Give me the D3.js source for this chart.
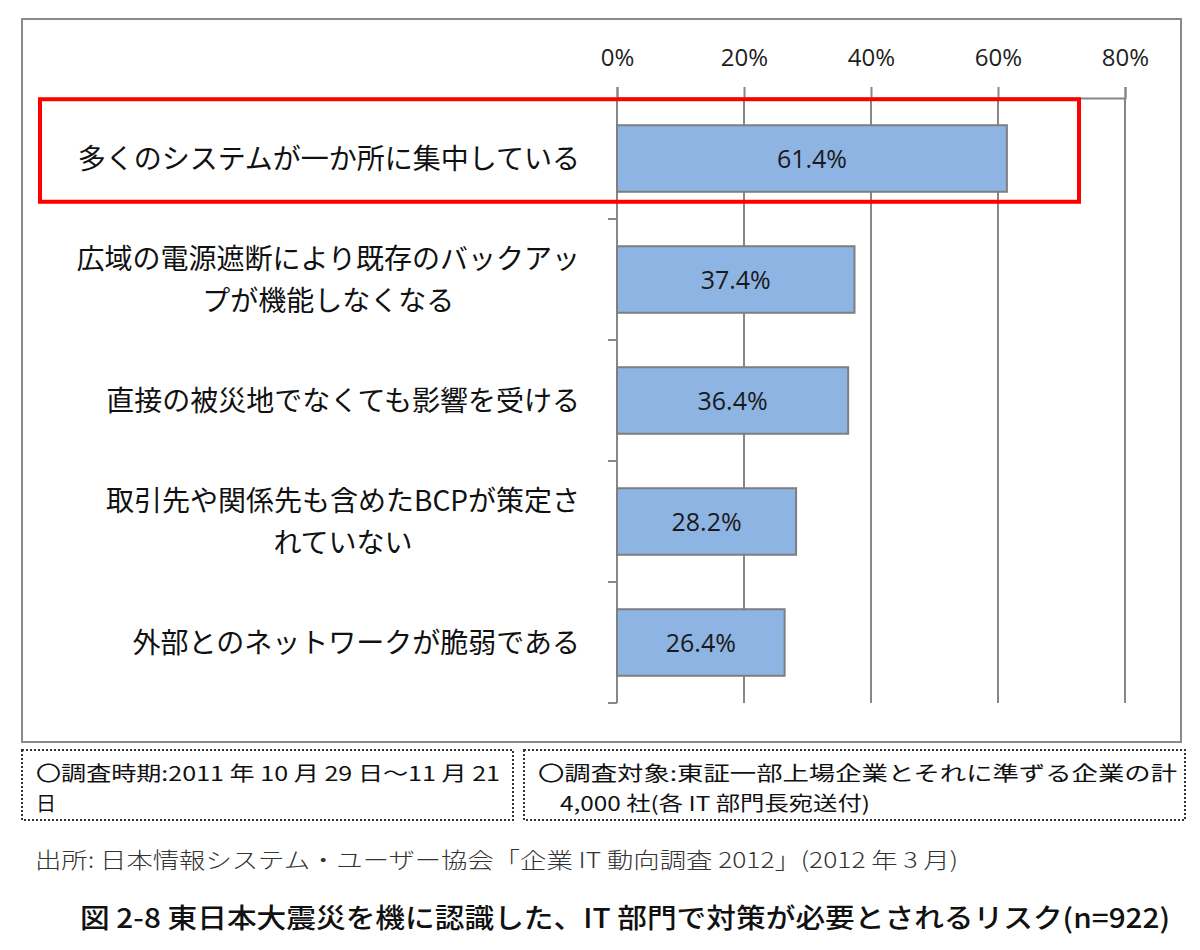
<!DOCTYPE html>
<html>
<head>
<meta charset="utf-8">
<script src="https://cdn.jsdelivr.net/npm/d3@7"></script>
<style>
  body { margin: 0; background: #fff; }
  svg { display: block; }
</style>
</head>
<body>
<div id="chart"></div>
<script>
// data
var categories = [
  "多くのシステムが一か所に集中している",
  "広域の電源遮断により既存のバックアップが機能しなくなる",
  "直接の被災地でなくても影響を受ける",
  "取引先や関係先も含めたBCPが策定されていない",
  "外部とのネットワークが脆弱である"
];
var labelLines = [
  ["多くのシステムが一か所に集中している"],
  ["広域の電源遮断により既存のバックアッ", "プが機能しなくなる"],
  ["直接の被災地でなくても影響を受ける"],
  ["取引先や関係先も含めたBCPが策定さ", "れていない"],
  ["外部とのネットワークが脆弱である"]
];
var values = [0.614, 0.374, 0.364, 0.282, 0.264];
var xTicks = [0, 0.2, 0.4, 0.6, 0.8];
var highlighted = categories[0];

var note1 = ["〇調査時期:2011 年 10 月 29 日～11 月 21", "日"];
var note2 = ["〇調査対象:東証一部上場企業とそれに準ずる企業の計", "4,000 社(各 IT 部門長宛送付)"];
var sourceText = "出所: 日本情報システム・ユーザー協会「企業 IT 動向調査 2012」(2012 年 3 月)";
var titleText = "図 2-8  東日本大震災を機に認識した、IT 部門で対策が必要とされるリスク(n=922)";

var W = 1200, H = 950;
var jp = "'Noto Sans CJK JP', 'Noto Sans', sans-serif";
var num = "'Open Sans', 'Noto Sans', sans-serif";
var gridColor = "#878787";

var svg = d3.select("#chart").append("svg")
    .attr("width", W)
    .attr("height", H);

// outer chart frame
svg.append("rect")
    .attr("x", 22).attr("y", 19)
    .attr("width", 1159).attr("height", 723)
    .attr("fill", "#fff")
    .attr("stroke", "#8a8a8a")
    .attr("stroke-width", 2);

var x = d3.scaleLinear()
    .domain([0, 0.8])
    .range([617, 1125]);

var y = d3.scaleBand()
    .domain(categories)
    .range([98, 703])
    .paddingInner(0.45)
    .paddingOuter(0.225);

// vertical gridlines
svg.append("g")
  .selectAll("line")
  .data(xTicks)
  .join("line")
    .attr("x1", d => x(d)).attr("x2", d => x(d))
    .attr("y1", 98).attr("y2", 703)
    .attr("stroke", gridColor)
    .attr("stroke-width", 2);

// value axis on top
var xAxis = svg.append("g")
    .attr("transform", "translate(0,98)")
    .call(d3.axisTop(x)
        .tickValues(xTicks)
        .tickFormat(d3.format(".0%"))
        .tickSize(11)
        .tickPadding(21));
xAxis.select(".domain").attr("stroke", gridColor).attr("stroke-width", 2);
xAxis.selectAll(".tick line").attr("stroke", gridColor).attr("stroke-width", 2);
xAxis.selectAll(".tick text")
    .attr("font-family", num)
    .attr("font-size", 24)
    .attr("fill", "#1e1e1e");

// category axis with ticks on the band boundaries
var bounds = categories.map(c => y(c) - (y.step() - y.bandwidth()) / 2);
bounds.push(y.range()[1]);
var yAxis = svg.append("g");
yAxis.append("line")
    .attr("x1", x(0)).attr("x2", x(0))
    .attr("y1", y.range()[0]).attr("y2", y.range()[1])
    .attr("stroke", gridColor)
    .attr("stroke-width", 2);
yAxis.selectAll("line.tk")
  .data(bounds.slice(1))
  .join("line")
    .attr("class", "tk")
    .attr("x1", x(0) - 9).attr("x2", x(0))
    .attr("y1", d => d).attr("y2", d => d)
    .attr("stroke", gridColor)
    .attr("stroke-width", 2);

// bars
svg.append("g")
  .selectAll("rect")
  .data(values)
  .join("rect")
    .attr("x", x(0))
    .attr("y", (d, i) => y(categories[i]))
    .attr("width", d => x(d) - x(0))
    .attr("height", y.bandwidth())
    .attr("fill", "#8db4e2")
    .attr("stroke", "#7f7f7f")
    .attr("stroke-width", 2);

// value labels centred in bars
svg.append("g")
  .selectAll("text")
  .data(values)
  .join("text")
    .attr("x", d => (x(0) + x(d)) / 2)
    .attr("y", (d, i) => y(categories[i]) + y.bandwidth() / 2)
    .attr("dy", "0.36em")
    .attr("text-anchor", "middle")
    .attr("font-family", num)
    .attr("font-size", 25)
    .attr("fill", "#1a1a1a")
    .text(d => d3.format(".1%")(d));

// category labels: block right aligned, wrapped lines centred in block
var labelRight = 580, lineH = 42;
var labels = svg.append("g");
categories.forEach(function(c, i) {
  var lines = labelLines[i];
  var cy = y(c) + y.bandwidth() / 2;
  var g = labels.append("g");
  var texts = g.selectAll("text")
    .data(lines)
    .join("text")
      .attr("y", (d, k) => cy + (k - (lines.length - 1) / 2) * lineH)
      .attr("dy", "0.36em")
      .attr("font-family", jp)
      .attr("font-size", 28)
      .attr("font-weight", 400)
      .attr("fill", "#111")
      .text(d => d);
  var maxW = d3.max(texts.nodes(), n => n.getComputedTextLength());
  texts.attr("x", labelRight - maxW / 2).attr("text-anchor", "middle");
});

// highlight box round the first category
var hy = y(highlighted);
svg.append("rect")
    .attr("x", 40).attr("y", hy - 26)
    .attr("width", 1039).attr("height", y.bandwidth() + 36)
    .attr("fill", "none")
    .attr("stroke", "#ff0000")
    .attr("stroke-width", 4);

// survey notes in dotted boxes
function noteBox(x0, x1, lines, fits, indent) {
  svg.append("rect")
      .attr("x", x0).attr("y", 750)
      .attr("width", x1 - x0).attr("height", 70)
      .attr("fill", "none")
      .attr("stroke", "#333")
      .attr("stroke-width", 2)
      .attr("stroke-dasharray", "2,2");
  lines.forEach(function(t, k) {
    var tx = svg.append("text")
        .attr("x", x0 + 14 + (k ? indent : 0))
        .attr("y", 781 + k * 30)
        .attr("font-family", jp)
        .attr("font-size", 20)
        .attr("font-weight", 400)
        .attr("fill", "#111")
        .text(t);
    if (fits[k]) tx.attr("textLength", fits[k]).attr("lengthAdjust", "spacingAndGlyphs");
  });
}
noteBox(22, 513, note1, [464, 0], 0);
noteBox(524, 1185, note2, [639, 310], 22);

// source
svg.append("text")
    .attr("x", 35).attr("y", 868)
    .attr("font-family", jp)
    .attr("font-size", 22)
    .attr("font-weight", 300)
    .attr("fill", "#333")
    .attr("textLength", 923)
    .attr("lengthAdjust", "spacingAndGlyphs")
    .text(sourceText);

// figure title
svg.append("text")
    .attr("x", 80).attr("y", 928)
    .attr("font-family", jp)
    .attr("font-size", 27)
    .attr("font-weight", 500)
    .attr("fill", "#111")
    .attr("textLength", 1090)
    .attr("lengthAdjust", "spacingAndGlyphs")
    .text(titleText);
</script>
</body>
</html>
